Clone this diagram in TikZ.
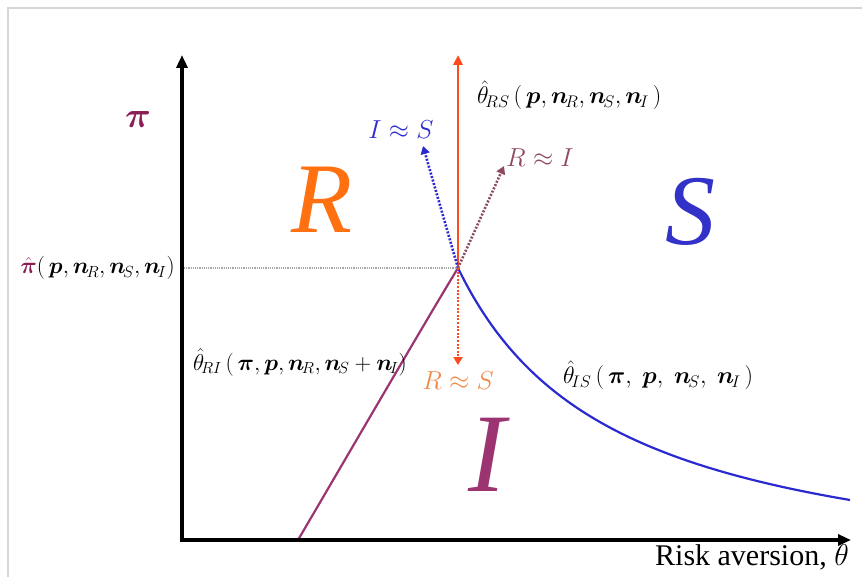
\RequirePackage{fix-cm}
\documentclass[tikz,border=0pt]{standalone}
\usepackage{amsmath,bm}
\usepackage{fontspec}
\setmainfont{Liberation Serif}
\usetikzlibrary{arrows.meta}
\definecolor{piC}{HTML}{8B1E55}
\definecolor{riC}{HTML}{9B3470}
\definecolor{ribC}{HTML}{8E4A60}
\definecolor{rC}{HTML}{FF7010}
\definecolor{rsC}{HTML}{FF4A1E}
\definecolor{rsLab}{HTML}{F08A4A}
\definecolor{sC}{HTML}{3232C8}
\definecolor{isC}{HTML}{2A2AD0}
\definecolor{frameC}{HTML}{D6D6D6}
\newcommand{\cmw}{,\;}
\tikzset{
  axis/.style={line width=3.2pt,-{Triangle[length=13pt,width=11pt]}},
  dotarrow/.style={line width=2.6pt,dash pattern=on 2pt off 1.6pt,-{Triangle[length=8pt,width=9pt]}},
  lab/.style={font=\fontsize{24}{28}\selectfont,inner sep=0pt},
  small/.style={font=\fontsize{26}{30}\selectfont,inner sep=0pt},
  region/.style={font=\fontsize{100}{100}\selectfont\itshape,inner sep=0pt},
}
\begin{document}
\begin{tikzpicture}[x=1pt,y=-1pt]
\useasboundingbox (0,0) rectangle (862,577);
% frame
\draw[frameC,line width=1.6pt] (8,577) -- (8,8) -- (862,8);
% points
\coordinate (O) at (182,540);
\coordinate (Ytip) at (182,55);
\coordinate (Xtip) at (851,540);
\coordinate (P) at (458,268);
\coordinate (Pl) at (184,268);
\coordinate (RStip) at (458,55);
\coordinate (IStip) at (423,146);
\coordinate (RItip) at (504,166);
\coordinate (RSdtip) at (458,365);
\coordinate (RIend) at (298,540);
% dotted horizontal
\draw[gray!70,line width=1.3pt,dash pattern=on 1.2pt off 1pt] (Pl) -- (P);
% curves
\draw[riC,line width=2.2pt] (P) .. controls (425,322) and (345,460) .. (RIend);
\draw[isC,line width=2.2pt] plot[domain=458:850,samples=90,smooth] (\x,{593.5-514.3*(100/(\x-300))});
% arrows from P
\draw[rsC,line width=2.6pt,-{Triangle[length=10pt,width=9pt]}] (P) -- (RStip);
\draw[dotarrow,isC] (P) -- (IStip);
\draw[dotarrow,ribC] (P) -- (RItip);
\draw[dotarrow,rsC] (P) -- (RSdtip);
% axes
\draw[axis] (O) -- (Ytip);
\draw[axis,line cap=rect] (O) -- (Xtip);
% labels
\node[font=\fontsize{36}{40}\selectfont,inner sep=0pt,text=piC] (pi) at (138,120) {$\bm{\pi}$};
\node[lab,anchor=east,font=\fontsize{23}{26}\selectfont] (pihat) at (175,268) {$\textcolor{piC}{\hat{\bm{\pi}}}\!\left(\,\bm{p},\bm{n}_{\!R},\bm{n}_{\!S},\bm{n}_{\!I}\right)$};
\node[lab,anchor=west] (thRS) at (477,95) {$\hat{\theta}_{\!RS}\left(\,\bm{p},\bm{n}_{\!R},\bm{n}_{\!S},\bm{n}_{\!I}\,\right)$};
\node[lab,anchor=west,font=\fontsize{23}{26}\selectfont] (thRI) at (193,362) {$\hat{\theta}_{\!RI}\left(\,\bm{\pi},\bm{p},\bm{n}_{\!R},\bm{n}_{\!S}+\bm{n}_{\!I}\right)$};
\node[lab,anchor=west] (thIS) at (563,375) {$\hat{\theta}_{\!IS}\left(\,\bm{\pi}\cmw\bm{p}\cmw\bm{n}_{\!S}\cmw\bm{n}_{\!I}\,\right)$};
\node[small,text=isC] (IS) at (401,130) {$I\approx S$};
\node[small,text=ribC] (RI) at (540,158) {$R\approx I$};
\node[small,text=rsLab] (RS) at (458,381) {$R\approx S$};
\node[region,text=rC] (R) at (322,200) {R};
\node[region,text=sC] (S) at (690,212) {S};
\node[region,text=riC,font=\fontsize{112}{112}\selectfont\itshape] (I) at (487,455) {I};
\node[font=\fontsize{30}{34}\selectfont,inner sep=0pt,anchor=east] (xlab) at (849,557) {Risk aversion, $\theta$};
\end{tikzpicture}
\end{document}
